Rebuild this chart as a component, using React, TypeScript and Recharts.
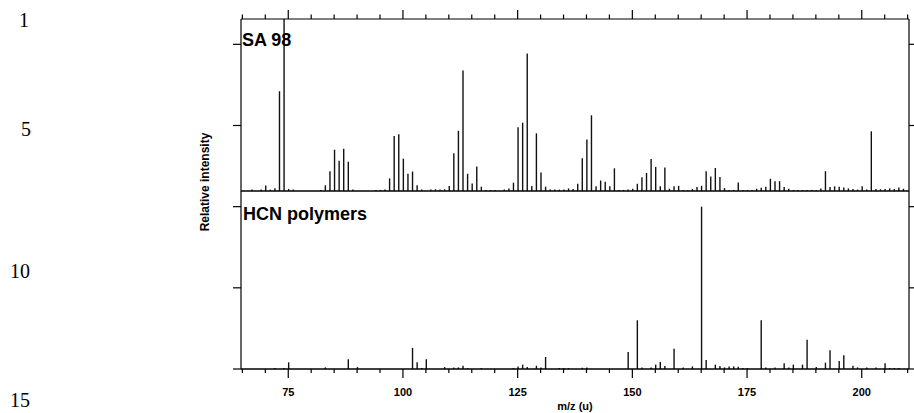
import React from 'react'
import { ComposedChart, Bar, XAxis, YAxis, ReferenceLine } from 'recharts'

// SA 98 spectrum (relative intensity, base peak = 100)
const saMz = [
  67, 69, 70, 71, 72, 73, 74, 75, 76, 82, 83, 84, 85, 86, 87, 88, 89,
  94, 95, 96, 97, 98, 99, 100, 101, 102, 103, 104, 106, 107, 108, 109, 110,
  111, 112, 113, 114, 115, 116, 117, 118, 119, 120, 122, 123, 124, 125, 126,
  127, 128, 129, 130, 131, 132, 133, 134, 135, 136, 137, 138, 139, 140, 141,
  142, 143, 144, 145, 146, 147, 148, 149, 150, 151, 152, 153, 154, 155, 156,
  157, 158, 159, 160, 161, 162, 163, 164, 165, 166, 167, 168, 169, 170, 171,
  172, 173, 174, 175, 176, 177, 178, 179, 180, 181, 182, 183, 184, 185, 186,
  187, 188, 189, 190, 191, 192, 193, 194, 195, 196, 197, 198, 199, 200, 201,
  202, 203, 204, 205, 206, 207, 208, 209,
]
const saInt = [
  0.8, 0.8, 3.2, 0.8, 1.6, 58, 100, 1.2, 0.8, 0.6, 3.3, 11.5, 24, 17.6, 24.5, 17, 0.8,
  0.6, 0.6, 0.8, 7.3, 32, 33, 18.8, 10, 11.3, 3.3, 0.8, 0.8, 1, 0.8, 1, 2.9,
  22, 35, 70, 10, 4.4, 14.2, 2.5, 0.6, 0.6, 0.6, 0.8, 1.5, 4.8, 37, 39.7,
  80, 2.9, 33.5, 10.7, 2.5, 0.8, 0.8, 0.8, 0.8, 1.5, 1.1, 4.2, 19, 30, 44,
  2.7, 6.1, 5.4, 2.7, 13.2, 0.6, 0.6, 0.8, 1.3, 4.2, 8, 10.5, 18.6, 14, 2.7,
  13.6, 1.3, 2.7, 3, 0.6, 0.6, 1.1, 2.3, 3, 11.5, 8.4, 13.4, 8.2, 1.7, 0.6,
  0.6, 5, 0.6, 0.6, 0.6, 1.3, 1.9, 2.5, 7.1, 5.6, 5.7, 2.3, 1.3, 0.6, 0.6,
  0.6, 0.6, 0.6, 0.6, 1.5, 11.5, 2.3, 2.7, 2.5, 2.1, 1.5, 1.1, 0.8, 2.7, 0.8,
  34.7, 1.2, 1, 1.2, 1.5, 1.2, 2.1, 1.3,
]

// HCN polymers spectrum
const hcnMz = [
  72, 74, 75, 83, 88, 90, 102, 103, 104, 105, 109, 111, 112, 113, 114, 117,
  124, 125, 126, 127, 129, 130, 131, 134, 135, 136, 139, 140, 149, 151, 152,
  154, 155, 156, 157, 159, 161, 163, 165, 166, 168, 169, 170, 171, 172, 173,
  174, 175, 178, 179, 181, 183, 184, 185, 187, 188, 190, 192, 193, 195, 196,
  198, 199, 201, 203, 205, 206, 207, 208,
]
const hcnInt = [
  0.6, 0.6, 4.1, 1, 6, 1.2, 13, 4.1, 0.6, 6, 1.2, 1, 1, 2, 0.6, 0.6,
  0.6, 1.6, 2.7, 1.2, 2, 1, 7.4, 0.6, 0.6, 0.6, 0.8, 1, 10.5, 30, 1,
  1, 2.7, 4.3, 1.8, 12.5, 1, 1.6, 100, 5.5, 2.7, 1.8, 1, 1.6, 1.6, 1.4,
  0.6, 0.6, 30, 1, 1, 3.5, 1, 2.7, 2.7, 18, 1.2, 3.9, 11.5, 4.9, 8.4,
  2, 1, 1, 1, 3.5, 0.6, 0.6, 0.6,
]

const mzTicks = [
  65, 70, 75, 80, 85, 90, 95, 100, 105, 110, 115, 120, 125, 130, 135,
  140, 145, 150, 155, 160, 165, 170, 175, 180, 185, 190, 195, 200, 205, 210,
]
const majorTicks = [75, 100, 125, 150, 175, 200]
const intensityTicks = [0, 50, 100, 150, 200]
const lineNumbers = ['1', '5', '10', '15']

const mzDomain = [64.7, 210.3]
const saDomain = [-103.5, 100]
const hcnDomain = [0, 215.6]

const allMz = Array.from(new Set([...saMz, ...hcnMz])).sort((a, b) => a - b)
const chartData = allMz.map(mz => ({
  mz,
  sa: saInt[saMz.indexOf(mz)] ?? 0,
  hcn: hcnInt[hcnMz.indexOf(mz)] ?? 0,
}))

const sans = 'Liberation Sans, Arial, sans-serif'

function BottomTick({ x, y, payload }: any) {
  const major = majorTicks.includes(payload.value)
  return (
    <g>
      <line x1={x} x2={x} y1={y} y2={y + (major ? 9 : 4)} stroke="#000" strokeWidth={1.2} />
      {major && (
        <text x={x} y={y + 27} textAnchor="middle" fontSize={11} fontWeight="bold" fontFamily={sans} fill="#000">
          {payload.value}
        </text>
      )}
    </g>
  )
}

function TopTick({ x, y, payload }: any) {
  const major = majorTicks.includes(payload.value)
  return <line x1={x} x2={x} y1={y} y2={y - (major ? 9 : 4.5)} stroke="#000" strokeWidth={1.2} />
}

export default function App() {
  const lnPos = [
    { x: 19, y: 27 },
    { x: 21, y: 136 },
    { x: 10, y: 278 },
    { x: 10, y: 407 },
  ]
  return (
    <div style={{ position: 'absolute', left: 0, top: 0, width: 914, height: 413, background: '#fff', overflow: 'hidden' }}>
      <ComposedChart width={914} height={413} data={chartData} margin={{ top: 9, right: 0, bottom: 14, left: 201 }}>
        <XAxis xAxisId="sa" dataKey="mz" type="number" domain={mzDomain} allowDataOverflow hide />
        <XAxis xAxisId="hcn" dataKey="mz" type="number" domain={mzDomain} allowDataOverflow hide />
        <XAxis
          xAxisId="bottom"
          dataKey="mz"
          type="number"
          domain={mzDomain}
          allowDataOverflow
          ticks={mzTicks}
          interval={0}
          tickSize={0}
          tickMargin={0}
          tickLine={false}
          tick={<BottomTick />}
          height={30}
          axisLine={{ stroke: '#000', strokeWidth: 1.6 }}
        />
        <XAxis
          xAxisId="top"
          orientation="top"
          dataKey="mz"
          type="number"
          domain={mzDomain}
          allowDataOverflow
          ticks={mzTicks}
          interval={0}
          tickSize={0}
          tickMargin={0}
          tickLine={false}
          tick={<TopTick />}
          height={10}
          axisLine={{ stroke: '#000', strokeWidth: 1.2 }}
        />
        <YAxis yAxisId="sa" type="number" domain={saDomain} allowDataOverflow hide />
        <YAxis
          yAxisId="hcn"
          type="number"
          domain={hcnDomain}
          allowDataOverflow
          ticks={intensityTicks}
          interval={0}
          tickSize={8}
          tickFormatter={() => ''}
          width={40}
          axisLine={{ stroke: '#000', strokeWidth: 1.2 }}
          tickLine={{ stroke: '#000', strokeWidth: 1.2 }}
        />
        <YAxis
          yAxisId="hcnR"
          orientation="right"
          type="number"
          domain={hcnDomain}
          allowDataOverflow
          ticks={intensityTicks}
          interval={0}
          tickSize={5}
          tickFormatter={() => ''}
          width={5}
          axisLine={{ stroke: '#000', strokeWidth: 1.2 }}
          tickLine={{ stroke: '#000', strokeWidth: 1.2 }}
        />
        <ReferenceLine xAxisId="sa" yAxisId="sa" y={0} stroke="#000" strokeWidth={1.6} />
        <Bar xAxisId="sa" yAxisId="sa" dataKey="sa" fill="#111" barSize={1.4} isAnimationActive={false} />
        <Bar xAxisId="hcn" yAxisId="hcn" dataKey="hcn" fill="#111" barSize={1.4} isAnimationActive={false} />
      </ComposedChart>
      <svg width={914} height={413} style={{ position: 'absolute', left: 0, top: 0, pointerEvents: 'none' }}>
        {lineNumbers.map((t, i) => (
          <text key={t} x={lnPos[i].x} y={lnPos[i].y} fontSize={20} fontFamily="Liberation Serif, Times New Roman, serif" fill="#000">
            {t}
          </text>
        ))}
        <text x={242} y={46} fontSize={18} fontWeight="bold" fontFamily={sans} fill="#000">SA 98</text>
        <text x={243} y={220} fontSize={18} fontWeight="bold" fontFamily={sans} fill="#000">HCN polymers</text>
        <text x={575} y={410} textAnchor="middle" fontSize={11} fontWeight="bold" fontFamily={sans} fill="#000">m/z (u)</text>
        <text
          x={209}
          y={182}
          textAnchor="middle"
          transform="rotate(-90 209 182)"
          fontSize={12}
          fontWeight="bold"
          fontFamily={sans}
          fill="#000"
        >
          Relative intensity
        </text>
      </svg>
    </div>
  )
}
